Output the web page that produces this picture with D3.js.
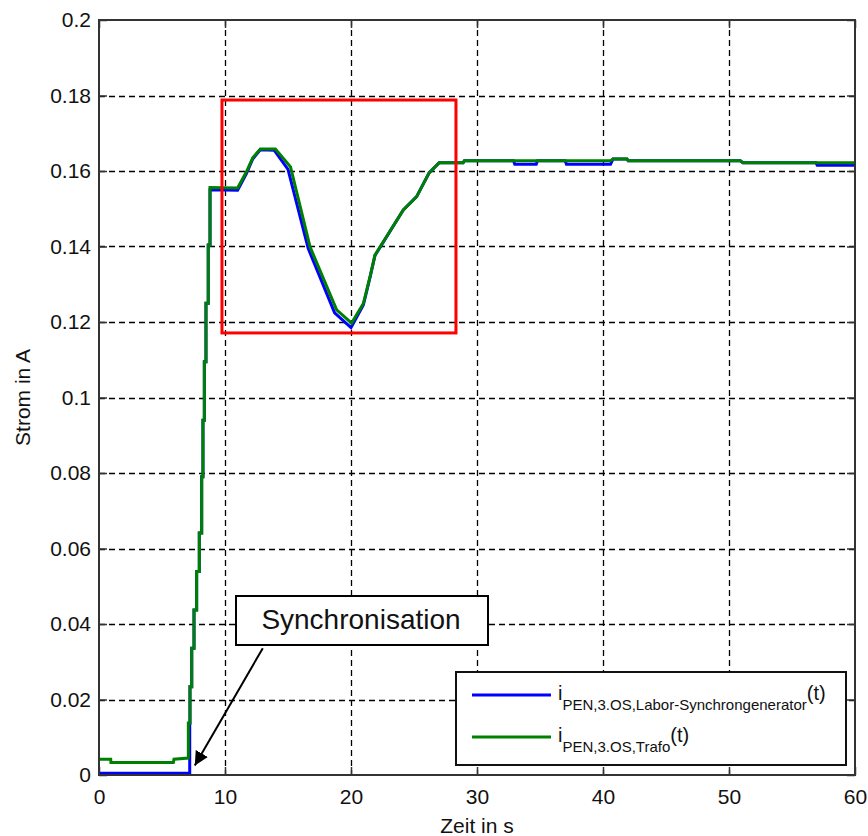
<!DOCTYPE html>
<html>
<head>
<meta charset="utf-8">
<script src="https://cdn.jsdelivr.net/npm/d3@7"></script>
<style>
  body { margin: 0; background: #fff; }
  svg text { font-family: "Liberation Sans", Arial, sans-serif; fill: #111; }
</style>
</head>
<body>
<svg id="chart" width="868" height="836"></svg>
<script>
// --- data (time in s, current in A) ---
var xTicks = [0, 10, 20, 30, 40, 50, 60];
var yTicks = [0, 0.02, 0.04, 0.06, 0.08, 0.1, 0.12, 0.14, 0.16, 0.18, 0.2];

// i_PEN,3.OS,Trafo (green)
var trafoSeries = [
  [0, 0.0042], [0.93, 0.0042], [0.95, 0.0033], [5.9, 0.0033], [5.95, 0.0042],
  [7.09, 0.0045], [7.09, 0.0138], [7.22, 0.0138], [7.22, 0.0234], [7.36, 0.0234],
  [7.36, 0.0336], [7.54, 0.0336], [7.54, 0.0437], [7.75, 0.0437], [7.75, 0.0539],
  [7.96, 0.0539], [7.96, 0.0641], [8.15, 0.0641], [8.15, 0.079], [8.25, 0.079],
  [8.25, 0.094], [8.36, 0.094], [8.36, 0.1095], [8.49, 0.1095], [8.49, 0.125],
  [8.67, 0.125], [8.67, 0.1404], [8.81, 0.1404], [8.81, 0.1556], [11.0, 0.1555],
  [11.7, 0.1598], [12.2, 0.1635], [12.8, 0.1658], [14.0, 0.1658], [15.2, 0.1611],
  [16.75, 0.1399], [18.86, 0.1232], [20.05, 0.1197], [20.98, 0.1249], [21.51, 0.132],
  [21.9, 0.1377], [24.15, 0.1497], [25.21, 0.1532], [26.2, 0.1595], [27.0, 0.1622],
  [28.9, 0.1622], [29.0, 0.1627], [40.6, 0.1627], [40.8, 0.1632], [41.9, 0.1632],
  [42.0, 0.1627], [50.9, 0.1627], [51.1, 0.1622], [60, 0.1622]
];

// i_PEN,3.OS,Labor-Synchrongenerator (blue)
var generatorSeries = [
  [0, 0.00045], [7.2, 0.00045], [7.2, 0.0138], [7.22, 0.0138], [7.22, 0.0234],
  [7.36, 0.0234], [7.36, 0.0336], [7.54, 0.0336], [7.54, 0.0437], [7.75, 0.0437],
  [7.75, 0.0539], [7.96, 0.0539], [7.96, 0.0641], [8.15, 0.0641], [8.15, 0.079],
  [8.25, 0.079], [8.25, 0.094], [8.36, 0.094], [8.36, 0.1095], [8.49, 0.1095],
  [8.49, 0.125], [8.67, 0.125], [8.67, 0.1404], [8.81, 0.1404], [8.81, 0.155],
  [11.0, 0.1549], [11.7, 0.1593], [12.2, 0.1632], [12.8, 0.1656], [13.9, 0.1655],
  [15.0, 0.1604], [16.6, 0.1395], [18.7, 0.1224], [20.0, 0.1185], [20.98, 0.1245],
  [21.51, 0.1318], [21.9, 0.1376], [24.15, 0.1497], [25.21, 0.1532], [26.2, 0.1595],
  [27.0, 0.1622], [28.9, 0.1622], [29.0, 0.1627], [32.9, 0.1627], [33.0, 0.1618],
  [34.7, 0.1618], [34.8, 0.1627], [37.0, 0.1627], [37.1, 0.1618], [40.6, 0.1618],
  [40.8, 0.1632], [41.9, 0.1632], [42.0, 0.1627], [50.9, 0.1627], [51.1, 0.1622],
  [56.9, 0.1622], [57.0, 0.1615], [60, 0.1615]
];

// --- layout ---
var plotLeft = 99, plotRight = 855, plotTop = 20, plotBottom = 775;
var x = d3.scaleLinear().domain([0, 60]).range([plotLeft, plotRight]);
var y = d3.scaleLinear().domain([0, 0.2]).range([plotBottom, plotTop]);

var svg = d3.select("#chart");

// grid (dashed, snapped to pixel centres so it stays crisp)
var grid = svg.append("g");
grid.selectAll(".gx").data(xTicks.slice(1, -1)).enter().append("line")
  .attr("x1", d => Math.round(x(d)) + 0.5).attr("x2", d => Math.round(x(d)) + 0.5)
  .attr("y1", plotTop).attr("y2", plotBottom)
  .attr("stroke", "#000").attr("stroke-width", 1.3).attr("stroke-dasharray", "6,4");
grid.selectAll(".gy").data(yTicks.slice(1, -1)).enter().append("line")
  .attr("x1", plotLeft).attr("x2", plotRight)
  .attr("y1", d => Math.round(y(d)) + 0.5).attr("y2", d => Math.round(y(d)) + 0.5)
  .attr("stroke", "#000").attr("stroke-width", 1.3).attr("stroke-dasharray", "6,4");

// axes, ticks pointing inward
function styleAxis(g) {
  g.select(".domain").remove();
  g.selectAll(".tick line").attr("stroke", "#333").attr("stroke-width", 1.5);
  g.selectAll("text").style("font-size", "21px").attr("fill", "#111");
}
svg.append("g").attr("transform", "translate(0," + plotBottom + ")")
  .call(d3.axisBottom(x).tickValues(xTicks).tickSizeInner(-8).tickSizeOuter(0).tickPadding(14))
  .call(styleAxis);
svg.append("g").attr("transform", "translate(" + plotLeft + ",0)")
  .call(d3.axisLeft(y).tickValues(yTicks).tickSizeInner(-8).tickSizeOuter(0).tickPadding(8)
    .tickFormat(d => d3.format("~g")(d)))
  .call(styleAxis);
svg.append("g").attr("transform", "translate(0," + plotTop + ")")
  .call(d3.axisTop(x).tickValues(xTicks).tickSizeInner(-8).tickSizeOuter(0).tickFormat(""))
  .call(styleAxis);
svg.append("g").attr("transform", "translate(" + plotRight + ",0)")
  .call(d3.axisRight(y).tickValues(yTicks).tickSizeInner(-8).tickSizeOuter(0).tickFormat(""))
  .call(styleAxis);

// clip + lines
svg.append("clipPath").attr("id", "plotclip").append("rect")
  .attr("x", plotLeft).attr("y", plotTop)
  .attr("width", plotRight - plotLeft).attr("height", plotBottom - plotTop);

var line = d3.line().x(d => x(d[0])).y(d => y(d[1]));
var plot = svg.append("g").attr("clip-path", "url(#plotclip)");
plot.append("path").datum(generatorSeries).attr("d", line)
  .attr("fill", "none").attr("stroke", "#0000ff").attr("stroke-width", 3);
plot.append("path").datum(trafoSeries).attr("d", line)
  .attr("fill", "none").attr("stroke", "#008000").attr("stroke-width", 3);

// axes box
svg.append("rect").attr("x", plotLeft).attr("y", plotTop)
  .attr("width", plotRight - plotLeft).attr("height", plotBottom - plotTop)
  .attr("fill", "none").attr("stroke", "#333").attr("stroke-width", 2);

// axis labels
svg.append("text").attr("x", (plotLeft + plotRight) / 2).attr("y", 833)
  .attr("text-anchor", "middle").style("font-size", "21px").text("Zeit in s");
svg.append("text").attr("transform", "translate(30," + ((plotTop + plotBottom) / 2) + ") rotate(-90)")
  .attr("text-anchor", "middle").style("font-size", "21px").text("Strom in A");

// red highlight box (data coords)
svg.append("rect")
  .attr("x", x(9.76)).attr("y", y(0.1788))
  .attr("width", x(28.33) - x(9.76)).attr("height", y(0.1171) - y(0.1788))
  .attr("fill", "none").attr("stroke", "#ff0000").attr("stroke-width", 3);

// Synchronisation annotation
svg.append("defs").append("marker")
  .attr("id", "arrowhead").attr("viewBox", "0 0 10 10")
  .attr("refX", 10).attr("refY", 5)
  .attr("markerWidth", 14).attr("markerHeight", 14)
  .attr("markerUnits", "userSpaceOnUse").attr("orient", "auto")
  .append("path").attr("d", "M0,0 L10,5 L0,10 Z").attr("fill", "#000");

svg.append("line")
  .attr("x1", x(13.0)).attr("y1", y(0.0336))
  .attr("x2", x(7.6)).attr("y2", y(0.0025))
  .attr("stroke", "#000").attr("stroke-width", 2)
  .attr("marker-end", "url(#arrowhead)");

svg.append("rect").attr("x", 236).attr("y", 596).attr("width", 252).attr("height", 49)
  .attr("fill", "#fff").attr("stroke", "#000").attr("stroke-width", 2);
svg.append("text").attr("x", 361).attr("y", 629).attr("text-anchor", "middle")
  .style("font-size", "28px").attr("fill", "#000").text("Synchronisation");

// legend
var legend = svg.append("g");
legend.append("rect").attr("x", 456).attr("y", 672).attr("width", 390).attr("height", 93)
  .attr("fill", "#fff").attr("stroke", "#111").attr("stroke-width", 2);

var legendItems = [
  { sub: "PEN,3.OS,Labor-Synchrongenerator", color: "#0000ff", ly: 695, ty: 700 },
  { sub: "PEN,3.OS,Trafo", color: "#008000", ly: 737, ty: 742 }
];
legendItems.forEach(function(it) {
  legend.append("line").attr("x1", 472).attr("x2", 551).attr("y1", it.ly).attr("y2", it.ly)
    .attr("stroke", it.color).attr("stroke-width", 3);
  var t = legend.append("text").attr("x", 558).attr("y", it.ty).style("font-size", "20px");
  t.append("tspan").text("i");
  t.append("tspan").attr("dy", 10).style("font-size", "15px").text(it.sub);
  t.append("tspan").attr("dy", -10).text("(t)");
});
</script>
</body>
</html>
